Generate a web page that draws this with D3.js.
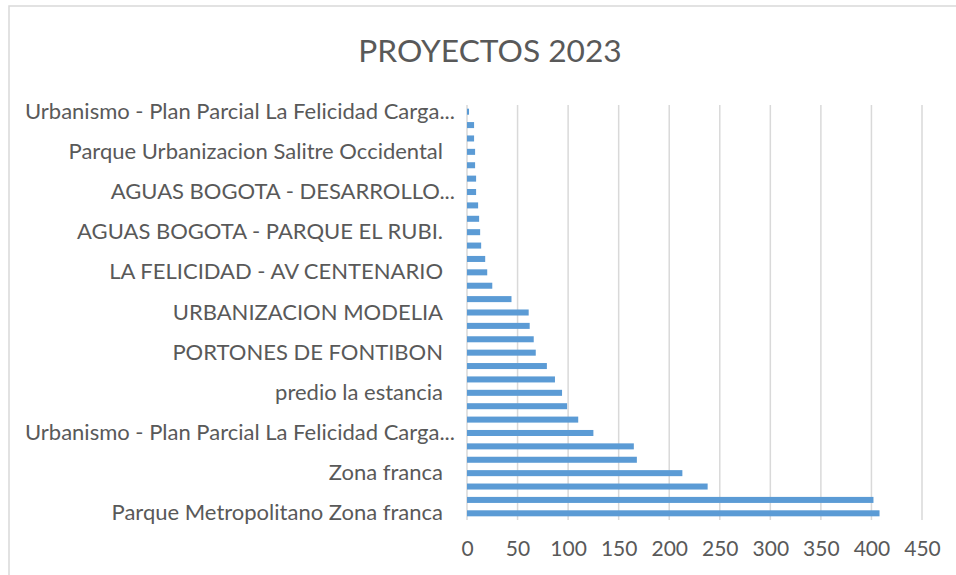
<!DOCTYPE html>
<html>
<head>
<meta charset="utf-8">
<script src="https://cdn.jsdelivr.net/npm/d3@7"></script>
<style>
  body { margin: 0; background: #fff; }
  svg { display: block; font-family: Lato, "Liberation Sans", sans-serif; }
</style>
</head>
<body>
<svg id="chart" width="956" height="575"></svg>
<script>
// categories bottom -> top; only every third one is named on the axis
var categories = [
  "Parque Metropolitano Zona franca", "", "",
  "Zona franca", "", "",
  "Urbanismo - Plan Parcial La Felicidad Carga...", "", "",
  "predio la estancia", "", "",
  "PORTONES DE FONTIBON", "", "",
  "URBANIZACION MODELIA", "", "",
  "LA FELICIDAD - AV CENTENARIO", "", "",
  "AGUAS BOGOTA - PARQUE EL RUBI.", "", "",
  "AGUAS BOGOTA - DESARROLLO...", "", "",
  "Parque Urbanizacion Salitre Occidental", "", "",
  "Urbanismo - Plan Parcial La Felicidad Carga..."
];
var values = [408, 402, 238, 213, 168, 165, 125, 110, 99, 94, 87, 79, 68, 66, 62, 61,
              44, 25, 20, 18, 14, 13, 12, 11, 9, 9, 8, 8, 7, 7, 2];
var xTicks = [0, 50, 100, 150, 200, 250, 300, 350, 400, 450];
var title = "PROYECTOS 2023";

(function(){
  var svg = d3.select('#chart');
  var plot = {"left":467,"right":922,"top":105,"bottom":520};

  // chart frame (right and bottom edges fall outside the picture)
  svg.append('rect')
    .attr('x', 9).attr('y', 6)
    .attr('width', 970).attr('height', 600)
    .attr('fill', 'none')
    .attr('stroke', '#d9d9d9')
    .attr('stroke-width', 1.5);

  svg.append('text')
    .attr('x', 490).attr('y', 62)
    .attr('text-anchor', 'middle')
    .attr('font-size', '31.7px')
    .attr('fill', '#595959')
    .text(title);

  var idx = d3.range(values.length);
  var x = d3.scaleLinear().domain([0, 450]).range([plot.left, plot.right]);
  var y = d3.scaleBand().domain(idx).range([plot.bottom, plot.top]).paddingInner(0.55).paddingOuter(0.275);

  // gridlines
  svg.append('g')
    .selectAll('line')
    .data(xTicks)
    .enter()
    .append('line')
    .attr('x1', function(d){ return x(d); })
    .attr('x2', function(d){ return x(d); })
    .attr('y1', plot.top)
    .attr('y2', plot.bottom)
    .attr('stroke', '#d9d9d9')
    .attr('stroke-width', 1.5);

  // bars
  svg.append('g')
    .selectAll('rect')
    .data(values)
    .enter()
    .append('rect')
    .attr('x', x(0))
    .attr('y', function(d, i){ return y(i); })
    .attr('width', function(d){ return x(d) - x(0); })
    .attr('height', y.bandwidth())
    .attr('fill', '#5b9bd5');

  // x axis labels
  var xAxis = d3.axisBottom(x).tickValues(xTicks).tickSize(0).tickPadding(21);
  var gx = svg.append('g')
    .attr('transform', 'translate(0,' + plot.bottom + ')')
    .call(xAxis);
  gx.select('.domain').remove();
  gx.selectAll('text').attr('font-size', '21px').attr('fill', '#595959')
    .attr('font-family', 'Lato, "Liberation Sans", sans-serif');

  // category labels (every third)
  var yAxis = d3.axisLeft(y)
    .tickValues(idx.filter(function(i){ return i % 3 === 0; }))
    .tickFormat(function(i){ return categories[i]; })
    .tickSize(0).tickPadding(24);
  var gy = svg.append('g')
    .attr('transform', 'translate(' + plot.left + ',0)')
    .call(yAxis);
  gy.select('.domain').remove();
  gy.selectAll('text').attr('font-size', '22px').attr('fill', '#595959')
    .attr('font-family', 'Lato, "Liberation Sans", sans-serif')
    // truncated labels run a little further right, like the original
    .attr('dx', function(i){ return /\.\.\.$/.test(categories[i]) ? 12 : 0; });
})();
</script>
</body>
</html>
